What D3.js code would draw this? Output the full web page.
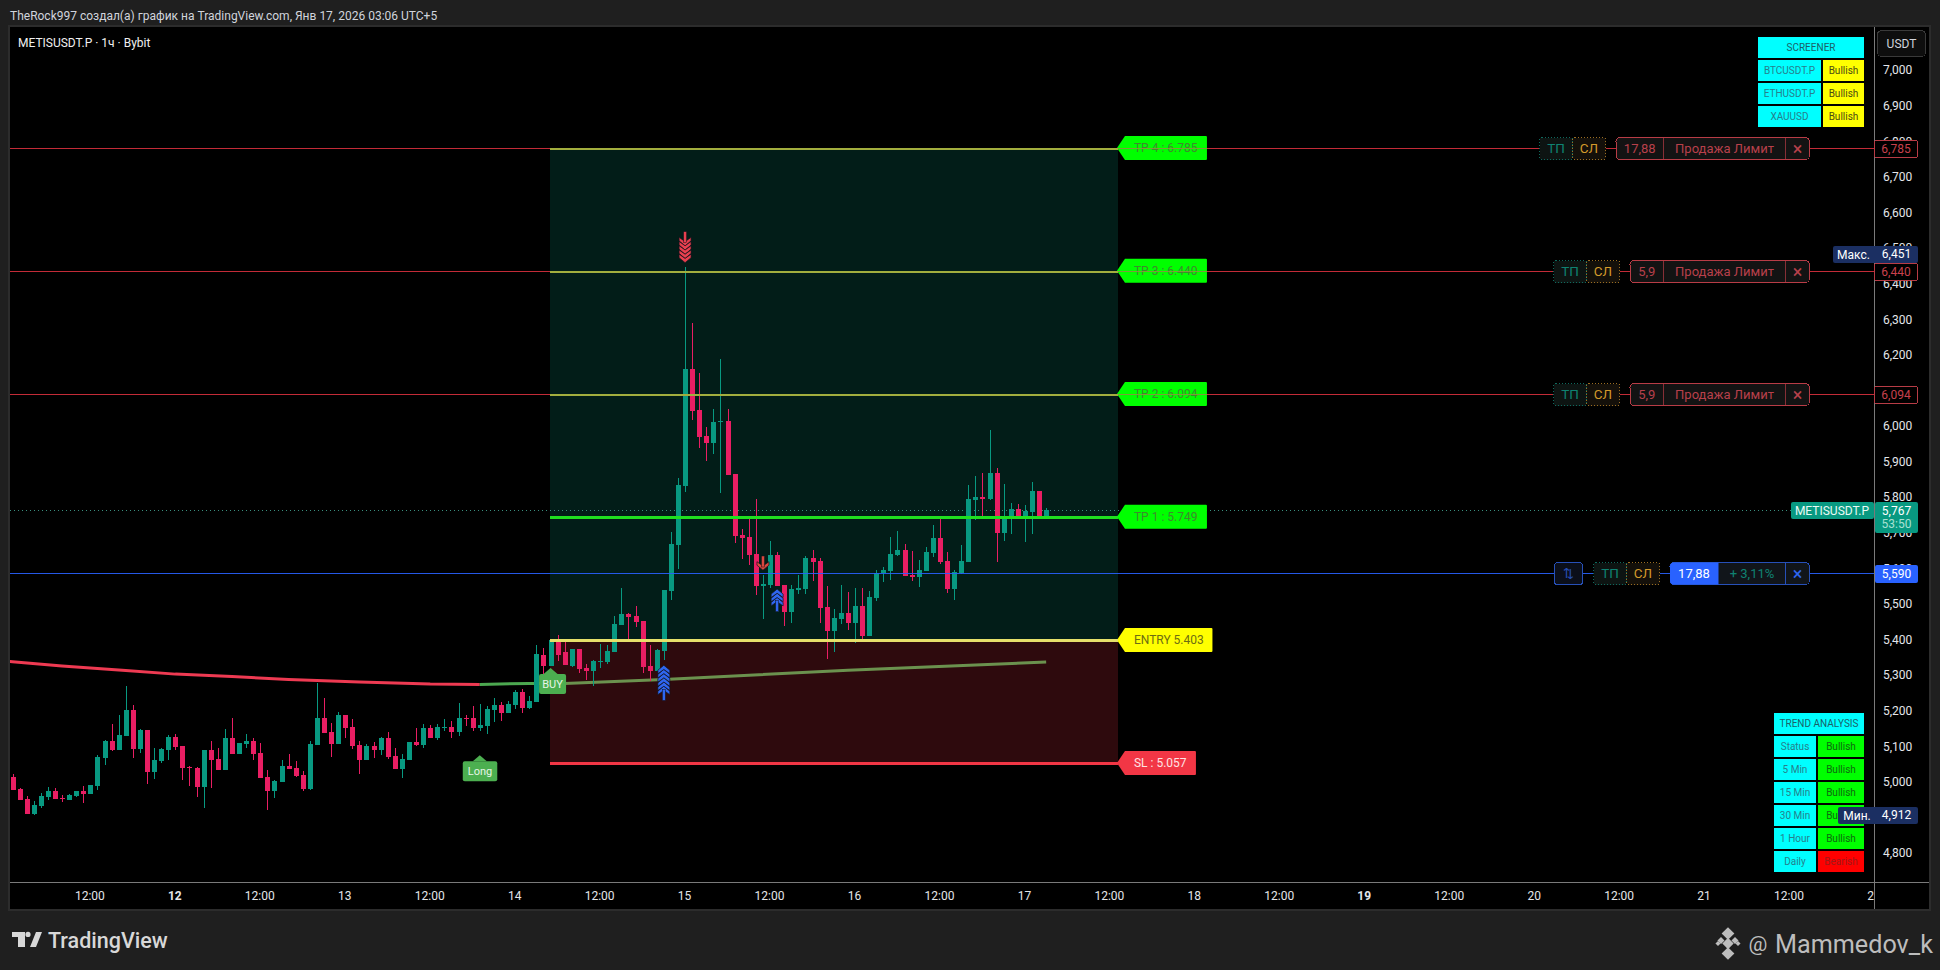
<!DOCTYPE html>
<html><head><meta charset="utf-8">
<script src="https://cdn.jsdelivr.net/npm/d3@7"></script>
<style>html,body{margin:0;padding:0;background:#1f1f1f;overflow:hidden}svg{display:block}text{font-family:Roboto,sans-serif}</style>
</head><body><svg id="c" width="1940" height="970"></svg>
<script>
// Prices are in thousandths (5767 = 5,767)
const opens=[5018,4984,4956,4914,4937,4962,4979,4959,4953,4965,4979,4970,4993,5071,5119,5094,5133,5206,5097,5150,5032,5063,5094,5130,5105,5047,5043,4990,5094,5069,5038,5128,5083,5111,5119,5085,5018,4979,5004,5049,5043,5024,4984,5108,5184,5145,5111,5192,5159,5108,5066,5105,5094,5128,5077,5041,5066,5116,5108,5156,5128,5156,5159,5144,5185,5184,5156,5161,5206,5220,5198,5220,5257,5212,5229,
5362,5330,5403,5368,5330,5377,5324,5315,5341,5341,5368,5444,5475,5470,5456,5329,5315,5371,5540,5669,5835,6164,6049,5976,5956,6015,6018,5869,5697,5692,5644,5554,5557,5641,5557,5481,5543,5545,5633,5624,5495,5427,5462,5479,5451,5498,5414,5521,5590,5597,5642,5656,5586,5580,5597,5647,5689,5625,5546,5591,5622,5796,5805,5799,5872,5703,5748,5771,5743,5762,5822,5748];
const highs=[5026,4988,4966,4950,4972,4990,4987,4968,4970,4979,4994,4996,5080,5122,5167,5192,5274,5220,5153,5150,5100,5100,5136,5139,5105,5049,5046,5094,5119,5100,5153,5184,5114,5139,5128,5114,5038,5010,5066,5083,5063,5035,5119,5282,5240,5170,5201,5192,5181,5119,5111,5116,5130,5144,5100,5083,5116,5156,5167,5164,5167,5181,5175,5226,5192,5218,5223,5218,5240,5229,5232,5263,5265,5246,5389,
5379,5403,5417,5403,5377,5377,5335,5346,5391,5389,5470,5548,5478,5498,5456,5388,5377,5543,5706,5857,6451,6294,6153,6001,6052,6192,6052,5869,5714,5745,5798,5585,5680,5649,5557,5557,5585,5638,5655,5633,5554,5489,5557,5538,5549,5549,5541,5600,5608,5692,5709,5673,5653,5628,5664,5726,5743,5650,5600,5670,5838,5864,5872,5993,5886,5841,5788,5785,5782,5847,5822,5774];
const lows=[4982,4953,4914,4912,4931,4953,4956,4948,4952,4962,4945,4970,4982,5052,5091,5094,5133,5071,5085,4998,5012,5057,5066,5094,5010,4993,4962,4931,4987,5038,5038,5083,5083,5100,5066,5015,4925,4959,5004,5041,5018,4979,4982,5108,5142,5074,5111,5128,5097,5026,5066,5071,5080,5069,5041,5015,5066,5105,5100,5128,5122,5147,5128,5133,5161,5147,5147,5139,5173,5175,5198,5209,5198,5209,5229,
5304,5330,5344,5332,5327,5310,5290,5273,5324,5335,5368,5444,5405,5439,5309,5287,5315,5346,5515,5602,5818,6021,5942,5905,5926,5815,5866,5675,5630,5613,5529,5461,5548,5554,5441,5450,5531,5531,5568,5450,5349,5368,5448,5431,5394,5406,5414,5512,5566,5571,5639,5583,5569,5552,5597,5636,5616,5535,5515,5588,5622,5740,5748,5796,5622,5681,5701,5743,5678,5701,5743,5748];
const closes=[4982,4953,4914,4939,4965,4979,4956,4957,4967,4979,4970,4996,5074,5119,5094,5136,5206,5097,5150,5032,5066,5097,5130,5102,5043,5045,4990,5094,5066,5038,5128,5083,5114,5119,5083,5015,4979,5007,5049,5041,5021,4984,5111,5184,5142,5111,5192,5156,5105,5066,5105,5094,5128,5074,5041,5069,5116,5108,5156,5128,5159,5158,5144,5184,5183,5156,5164,5209,5220,5198,5223,5257,5212,5232,5364,
5330,5403,5362,5332,5377,5321,5315,5344,5343,5372,5447,5475,5467,5453,5326,5315,5374,5543,5672,5838,6164,6046,5973,5956,6015,6018,5866,5694,5689,5641,5554,5559,5641,5554,5481,5545,5548,5633,5621,5492,5427,5464,5479,5451,5498,5414,5524,5591,5600,5644,5656,5583,5580,5600,5650,5689,5622,5546,5594,5625,5799,5805,5800,5872,5703,5751,5771,5743,5765,5822,5746,5767];

const maRedBars=[-1,0,7,16,23,31,39,49,59,66];
const maRedValues=[5343,5342,5330,5317,5307,5300,5292,5285,5279,5278];
const maGreenBars=[66,73,78,92,118,146];
const maGreenValues=[5278,5281,5281,5292,5318,5341];

const priceTicks=[7000,6900,6800,6700,6600,6500,6400,6300,6200,6100,6000,5900,5800,5700,5600,5500,5400,5300,5200,5100,5000,4800];
const timeBars=[11,23,35,47,59,71,83,95,107,119,131,143,155,167,179,191,203,215,227,239,251,263];
const timeLabels=["12:00","12","12:00","13","12:00","14","12:00","15","12:00","16","12:00","17","12:00","18","12:00","19","12:00","20","12:00","21","12:00","22"];
const boldLabels=["12","19"];

const tpNames=["TP 4 : 6.785","TP 3 : 6.440","TP 2 : 6.094","TP 1 : 5.749"];
const tpPrices=[6785,6440,6094,5749];
const entryPrice=5403, stopPrice=5057, lastPrice=5767, posPrice=5590, maxPrice=6451, minPrice=4912;
const zoneStartBar=76, zoneEndBar=156;
const longTagBar=66, longTagPrice=5079, buyTagBar=76, buyTagPrice=5324;

const orderPrices=[6785,6440,6094];
const orderQty=["17,88","5,9","5,9"];
const orderLabel="Продажа Лимит";

const signalBars=[95,92,108,106];
const signalPrices=[6463,5332,5546,5599];
const signalCounts=[5,6,3,1];
const signalDirs=[-1,1,1,-1];

const screenerNames=["BTCUSDT.P","ETHUSDT.P","XAUUSD"];
const screenerValues=["Bullish","Bullish","Bullish"];
const trendNames=["Status","5 Min","15 Min","30 Min","1 Hour","Daily"];
const trendValues=["Bullish","Bullish","Bullish","Bullish","Bullish","Bearish"];

const svg=d3.select("#c");
const W=1940,H=970,L=10,R=1874,T=27,B=882,FR=1929,FB=909;
const t0=Date.UTC(2026,0,11,1);
const barTime=i=>d3.utcHour.offset(new Date(t0),i);
const x=d3.scaleUtc().domain([barTime(0),barTime(263)]).range([12.5,1874.5]);
const y=d3.scaleLinear().domain([7125,4723]).range([T,B]);
const X=i=>x(barTime(i));
const fmt=d3.format(",d");
const UP="#089981",DN="#e91e63",RD="#f23645",BL="#2962ff";

function rect(g,x0,y0,w,h,fill,o={}){const r=g.append("rect").attr("x",x0).attr("y",y0).attr("width",w).attr("height",h).attr("fill",fill);
 if(o.rx)r.attr("rx",o.rx);if(o.stroke)r.attr("stroke",o.stroke).attr("stroke-width",o.sw||1);if(o.dash)r.attr("stroke-dasharray",o.dash);if(o.op!=null)r.attr("fill-opacity",o.op);if(!o.smooth)r.attr("shape-rendering","crispEdges");return r;}
function text(g,s,x0,y0,o={}){return g.append("text").attr("x",x0).attr("y",y0).attr("dy","0.35em").attr("font-size",o.size||12).attr("font-weight",o.w||400).attr("fill",o.fill||"#d1d4dc").attr("text-anchor",o.a||"middle").text(s);}
function hline(g,x0,x1,yy,c,sw,o={}){const l=g.append("line").attr("x1",x0).attr("x2",x1).attr("y1",yy).attr("y2",yy).attr("stroke",c).attr("stroke-width",sw).attr("shape-rendering","crispEdges");if(o.op!=null)l.attr("stroke-opacity",o.op);if(o.dash)l.attr("stroke-dasharray",o.dash);return l;}

// frame
rect(svg,0,0,W,H,"#1f1f1f");
rect(svg,L,T,FR-L,FB-T,"#000");
svg.append("rect").attr("x",9).attr("y",26).attr("width",FR-9+1).attr("height",FB-26+1).attr("fill","none").attr("stroke","#2c2c2c").attr("stroke-width",2).attr("shape-rendering","crispEdges");

svg.append("clipPath").attr("id","plot").append("rect").attr("x",L).attr("y",T).attr("width",R-L).attr("height",B-T);
svg.append("clipPath").attr("id","axisx").append("rect").attr("x",L).attr("y",B).attr("width",R-L).attr("height",FB-B);
const plot=svg.append("g").attr("clip-path","url(#plot)");

// moving average
const line=d3.line().x(d=>X(d[0])).y(d=>y(d[1]));
plot.append("path").attr("d",line(maRedBars.map((b,i)=>[b,maRedValues[i]]))).attr("fill","none").attr("stroke","#ee3a52").attr("stroke-width",3);
plot.append("path").attr("d",line(maGreenBars.map((b,i)=>[b,maGreenValues[i]]))).attr("fill","none").attr("stroke","#4ca850").attr("stroke-width",3);

// zones
const zx0=X(zoneStartBar)-0.5,zx1=X(zoneEndBar)+1;
rect(plot,zx0,y(tpPrices[0]),zx1-zx0,y(entryPrice)-y(tpPrices[0]),UP,{op:.19});
rect(plot,zx0,y(entryPrice),zx1-zx0,y(stopPrice)-y(entryPrice),RD,{op:.19});

// dotted last-price line
hline(plot,L,R,Math.round(y(lastPrice))+.5,"#3a8f7f",1,{dash:"1,3"});

// candles
const cg=plot.append("g");
opens.forEach((o,i)=>{const c=closes[i],col=c>=o?UP:DN,cx=Math.round(X(i));
 rect(cg,cx,y(highs[i]),1,y(lows[i])-y(highs[i]),col);
 const yt=Math.round(y(Math.max(o,c))),yb=Math.round(y(Math.min(o,c)));
 rect(cg,cx-2,yt,5,Math.max(1,yb-yt),col);
});

// signal arrows
signalBars.forEach((b,k)=>{
 const g=plot.append("g").attr("transform",`translate(${X(b)},${y(signalPrices[k])})`+(signalDirs[k]<0?" scale(1,-1)":""));
 const col=signalDirs[k]>0?"#2f66f0":(signalCounts[k]>1?"#e8404f":"#d9483e");
 const n=signalCounts[k];
 for(let j=n-1;j>=0;j--)g.append("path").attr("d",`M0,${j*4.2}L6,${j*4.2+5}L6,${j*4.2+8.5}L0,${j*4.2+4.2}L-6,${j*4.2+8.5}L-6,${j*4.2+5}Z`).attr("fill",col).attr("stroke","#12121c").attr("stroke-width",.7);
 const base=n*4.2+3;
 g.append("rect").attr("x",-1.5).attr("y",Math.max(2,base-4)).attr("width",3).attr("height",11).attr("fill",col).attr("stroke","#12121c").attr("stroke-width",.5);
});

// Long / BUY labels
function tag(bar,yTop,w,txt,xo){
 const cx=X(bar),g=plot.append("g");
 g.append("path").attr("d",`M${cx},${yTop}l7,6h-14z`).attr("fill","#4caf50");
 rect(g,cx-xo,yTop+6,w,20,"#4caf50",{rx:2,smooth:1});
 text(g,txt,cx-xo+w/2,yTop+16,{size:11,fill:"#e6f5e6"});
}
tag(longTagBar,y(longTagPrice),34.5,"Long",17);
tag(buyTagBar,y(buyTagPrice),27,"BUY",11.5);

// flag labels right of the zone
function flag(p,wid,fill,txt,col){
 const g=svg.append("g"),yy=y(p),x0=zx1-1;
 g.append("path").attr("d",`M${x0},${yy}L${x0+8},${yy-12}H${x0+wid-1}q1,0 1,1V${yy+11}q0,1 -1,1H${x0+8}Z`).attr("fill",fill);
 text(g,txt,x0+17,yy,{a:"start",fill:col,size:12});
}
tpPrices.forEach((p,i)=>flag(p,90,"#00ff00",tpNames[i],"#3e8a2c"));
flag(entryPrice,95.5,"#ffff00","ENTRY 5.403","#6d6d12");
flag(stopPrice,79,"#f23645","SL : 5.057","#ffe3e3");

// long order lines on top
orderPrices.forEach(p=>hline(svg,L,R,Math.round(y(p))+.5,RD,1,{op:.8}));
hline(svg,L,R,Math.round(y(posPrice))+.5,BL,1,{op:.9});

// zone level lines, above the order lines
tpPrices.forEach((p,i)=>hline(svg,zx0,zx1,Math.round(y(p))+(i==3?0:1),i==3?"#1fe01f":"#a2ae3e",i==3?3:2));
hline(svg,zx0,zx1,Math.round(y(entryPrice)),"#e6e06a",3);
hline(svg,zx0,zx1,Math.round(y(stopPrice)),RD,3);
// red line shows olive across the green flags
orderPrices.forEach(p=>hline(svg,zx1,zx1+89,Math.round(y(p))+.5,"#7f9a3a",1));

// order widgets
const OC="#b83c46",OT="#b8404b";
function tpsl(g,x0,yy){
 rect(g,x0,yy-11,33,22,"#0d1412",{stroke:"#0f6a5e",dash:"1,2",rx:2});
 text(g,"ТП",x0+16.5,yy,{size:13.5,fill:"#0f8272"});
 rect(g,x0+33,yy-11,33,22,"#14100a",{stroke:"#9c6e22",dash:"1,2",rx:2});
 text(g,"СЛ",x0+49.5,yy,{size:13.5,fill:"#d39a2b"});
}
orderPrices.forEach((p,i)=>{
 const yy=Math.round(y(p))+.5,g=svg.append("g");
 const mx=i==0?1616:1630,tx=i==0?1539.5:1553.5;
 tpsl(g,tx,yy);
 rect(g,mx,yy-11,1809.5-mx,22,"#131313",{stroke:OC,rx:4});
 g.append("line").attr("x1",1663.5).attr("x2",1663.5).attr("y1",yy-11).attr("y2",yy+11).attr("stroke",OC).attr("stroke-opacity",.7).attr("shape-rendering","crispEdges");
 g.append("line").attr("x1",1785.5).attr("x2",1785.5).attr("y1",yy-11).attr("y2",yy+11).attr("stroke",OC).attr("stroke-opacity",.7).attr("shape-rendering","crispEdges");
 text(g,orderQty[i],(mx+1663.5)/2,yy,{size:13,fill:OT});
 text(g,orderLabel,1724.5,yy,{size:13,fill:OT});
 text(g,"×",1797.5,yy,{size:18,fill:OT});
});
{
 const yy=Math.round(y(posPrice))+.5,g=svg.append("g");
 rect(g,1554.5,yy-11,28,22,"#0b0f1a",{stroke:"#2750b8",rx:3});
 text(g,"⇅",1568.5,yy,{size:13,fill:"#2750b8"});
 tpsl(g,1593.5,yy);
 rect(g,1670,yy-11,139.5,22,"#11151a",{stroke:"#2750b8",rx:4});
 g.append("path").attr("d",`M1718.5,${yy-11}H1674q-4,0 -4,4V${yy+7}q0,4 4,4H1718.5Z`).attr("fill",BL);
 text(g,"17,88",1694,yy,{size:13,fill:"#fff"});
 text(g,"+ 3,11%",1752,yy,{size:13,fill:"#0f8272"});
 g.append("line").attr("x1",1785.5).attr("x2",1785.5).attr("y1",yy-11).attr("y2",yy+11).attr("stroke","#2750b8").attr("shape-rendering","crispEdges");
 text(g,"×",1797.5,yy,{size:18,fill:"#2f66f0"});
}

// axes
const axY=svg.append("g").attr("transform",`translate(${R+9},-1.5)`).call(d3.axisRight(y).tickValues(priceTicks).tickSize(0).tickPadding(0).tickFormat(fmt));
axY.select(".domain").remove();
axY.selectAll("text").attr("font-size",12).attr("fill","#e4e6ea").attr("font-family","Roboto,sans-serif");
const axX=svg.append("g").attr("clip-path","url(#axisx)").append("g").attr("transform",`translate(-1,${B})`).call(d3.axisBottom(x).tickValues(timeBars.map(barTime)).tickSize(0).tickPadding(9).tickFormat((d,i)=>timeLabels[i]));
axX.select(".domain").remove();
axX.selectAll("text").attr("font-size",12).attr("fill","#e4e6ea").attr("font-family","Roboto,sans-serif").attr("font-weight",(d,i)=>boldLabels.includes(timeLabels[i])?700:400);
hline(svg,L,FR,B+.5,"#7a7a7a",1);
svg.append("line").attr("x1",R+.5).attr("x2",R+.5).attr("y1",T).attr("y2",FB).attr("stroke","#7a7a7a").attr("shape-rendering","crispEdges");

// axis price labels
orderPrices.forEach(p=>{const yy=Math.round(y(p))+.5;
 rect(svg,1874.5,yy-8,43,17,"#000",{stroke:OC,rx:2});
 text(svg,fmt(p),1896,yy,{fill:"#c8404d"});
});
{const yy=Math.round(y(posPrice))+.5;rect(svg,1875,yy-8.5,43,18,BL,{rx:2,smooth:1});text(svg,fmt(posPrice),1896.5,yy,{fill:"#fff"});}
// last price
rect(svg,1791,502,83,17,UP,{rx:2,smooth:1});
rect(svg,1875,502,43,31,UP,{rx:2,smooth:1});
text(svg,"METISUSDT.P",1832,510.5,{fill:"#e9fbf6"});
text(svg,fmt(lastPrice),1896.5,510.5,{fill:"#fff"});
text(svg,"53:50",1896.5,524,{fill:"#a8e0d3"});
// max / min
const MM="#1b2f62";
rect(svg,1833,246,85,17,MM,{rx:2,smooth:1});
text(svg,"Макс.",1853.5,254.5,{fill:"#fff"});text(svg,fmt(maxPrice),1896.5,254,{fill:"#fff"});

// tables
const CY="#00ffff",CT="#26808c";
function cell(x0,y0,w,h,fill,s,col){rect(svg,x0,y0,w,h,fill);text(svg,s,x0+w/2,y0+h/2,{size:10,fill:col});}
cell(1758,37,106,21,CY,"SCREENER","#1c5f68");
screenerNames.forEach((n,i)=>{const yy=60+23*i;cell(1758,yy,63,21,CY,n,CT);cell(1823,yy,41,21,"#ffff00",screenerValues[i],"#4a4a14");});
cell(1774,713,90,21,CY,"TREND ANALYSIS","#1c5f68");
trendNames.forEach((n,i)=>{const yy=736+23*i,bear=trendValues[i]=="Bearish";cell(1774,yy,42,21,CY,n,CT);cell(1818,yy,46,21,bear?"#ff0000":"#00ff00",trendValues[i],bear?"#a01818":"#0f6a0f");});
rect(svg,1838,807,80,17,MM,{rx:2,smooth:1});
text(svg,"Мин.",1857,815.5,{fill:"#fff"});text(svg,fmt(minPrice),1896.5,815,{fill:"#fff"});

// USDT button
rect(svg,1877.5,30.5,48,26,"#0e0e0e",{stroke:"#3a3a3a",rx:4});
text(svg,"USDT",1901.5,44,{fill:"#d1d4dc"});

// header & footer
text(svg,"TheRock997 создал(а) график на TradingView.com, Янв 17, 2026 03:06 UTC+5",10,16,{a:"start",fill:"#d1d4dc",size:12});
text(svg,"METISUSDT.P · 1ч · Bybit",18,43,{a:"start",fill:"#f0f0f0",size:12});
svg.append("path").attr("transform","translate(12,932)").attr("fill","#d8d8d8").attr("d","M13 0H0v5h6v10h7zM24 15h-6l6-15h6zM16 5a2.6 2.6 0 1 0 0-5.2 2.6 2.6 0 0 0 0 5.2z");
text(svg,"TradingView",48,940,{a:"start",fill:"#d8d8d8",size:21.5,w:500});
const bi=svg.append("g").attr("transform","translate(1728,943.5)").attr("fill","#bdbdbd");
[[0,-10,4.5],[-7,-3,2.5],[7,-3,2.5],[0,0,4],[-10,0,1.8],[10,0,1.8],[0,10,4.5]].forEach(d=>bi.append("rect").attr("x",d[0]-d[2]).attr("y",d[1]-d[2]).attr("width",d[2]*2).attr("height",d[2]*2).attr("transform",`rotate(45 ${d[0]} ${d[1]})`));
text(svg,"@",1758,944,{fill:"#bdbdbd",size:21,a:"middle"});
text(svg,"Mammedov_k",1775,944,{a:"start",fill:"#bdbdbd",size:25.2});
</script></body></html>
